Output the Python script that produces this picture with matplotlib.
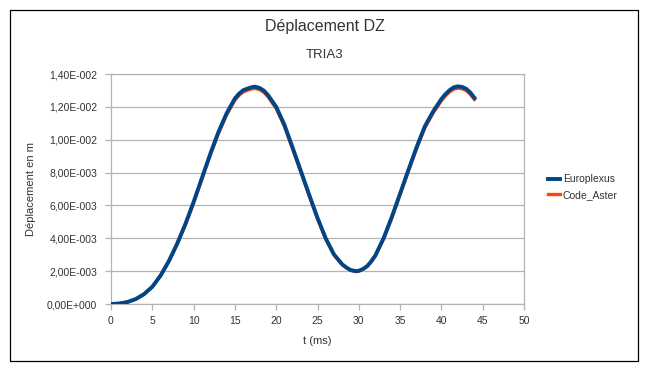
import matplotlib
matplotlib.use("Agg")
import matplotlib.pyplot as plt
from matplotlib.patches import Rectangle
from matplotlib.ticker import FuncFormatter, MultipleLocator

plt.rcParams['font.family'] = ['Liberation Sans', 'DejaVu Sans']

# time (ms)
t = [0, 1, 2, 3, 4, 5, 6, 7, 8, 9, 10, 11, 12, 13, 14, 15, 15.5, 16, 16.5, 17,
     17.4, 18, 18.5, 19, 19.5, 20, 21, 22, 23, 24, 25, 26, 27, 28, 28.5, 29,
     29.65, 30, 30.5, 31, 31.5, 32, 33, 34, 35, 36, 37, 38, 39, 40, 40.5, 41,
     41.5, 42, 42.5, 43, 43.5, 44]

# displacement DZ (m)
europlexus = [0, 0.00003, 0.00012, 0.00030, 0.00060, 0.00105, 0.00173, 0.00261,
              0.00366, 0.00486, 0.00621, 0.00766, 0.00911, 0.01046, 0.01161,
              0.01251, 0.01280, 0.01301, 0.01311, 0.01319, 0.01323, 0.01315,
              0.01299, 0.01272, 0.01236, 0.01200, 0.01090, 0.00950, 0.00807,
              0.00664, 0.00524, 0.00399, 0.00301, 0.00241, 0.00222, 0.00207,
              0.00200, 0.00202, 0.00213, 0.00230, 0.00259, 0.00295, 0.00400,
              0.00530, 0.00672, 0.00815, 0.00955, 0.01082, 0.01172, 0.01248,
              0.01278, 0.01302, 0.01319, 0.01325, 0.01321, 0.01310, 0.01287,
              0.01255]

code_aster = [0, 0.00003, 0.00012, 0.00030, 0.00060, 0.00104, 0.00172, 0.00259,
              0.00363, 0.00482, 0.00616, 0.00760, 0.00904, 0.01038, 0.01152,
              0.01241, 0.01270, 0.01291, 0.01301, 0.01309, 0.01313, 0.01305,
              0.01289, 0.01262, 0.01226, 0.01190, 0.01081, 0.00942, 0.00801,
              0.00659, 0.00520, 0.00396, 0.00299, 0.00239, 0.00220, 0.00205,
              0.00198, 0.00200, 0.00211, 0.00228, 0.00257, 0.00293, 0.00397,
              0.00526, 0.00667, 0.00808, 0.00947, 0.01073, 0.01163, 0.01238,
              0.01268, 0.01292, 0.01308, 0.01314, 0.01310, 0.01300, 0.01276,
              0.01245]

grey = '#b3b3b3'
txt = '#333333'


def sci_fmt(v, pos):
    # LibreOffice style: 1,40E-002
    if abs(v) < 1e-12:
        return '0,00E+000'
    s = '%.2E' % v
    mant, exp = s.split('E')
    e = int(exp)
    sign = '-' if e < 0 else '+'
    return mant.replace('.', ',') + 'E' + sign + '%03d' % abs(e)


fig = plt.figure(figsize=(6.49, 3.72), dpi=100)
fig.patch.set_facecolor('white')

# outer frame
fig.add_artist(Rectangle((10 / 649, 11 / 372), 628 / 649, 351 / 372,
                         transform=fig.transFigure, fill=False,
                         ec='black', lw=0.9))

ax = fig.add_axes([111 / 649, 68 / 372, 413 / 649, 230 / 372])

l2, = ax.plot(t, code_aster, color='#ff420e', lw=2.4, solid_joinstyle='round',
              label='Code_Aster', zorder=3)
l1, = ax.plot(t, europlexus, color='#004586', lw=2.8, solid_joinstyle='round',
              label='Europlexus', zorder=4)

ax.set_xlim(0, 50)
ax.set_ylim(0, 0.014)
ax.xaxis.set_major_locator(MultipleLocator(5))
ax.yaxis.set_major_locator(MultipleLocator(0.002))
ax.yaxis.set_major_formatter(FuncFormatter(sci_fmt))

ax.grid(axis='y', color=grey, lw=0.9)
ax.set_axisbelow(True)
for sp in ax.spines.values():
    sp.set_color(grey)
    sp.set_linewidth(0.9)

ax.tick_params(axis='both', colors=grey, labelcolor=txt, labelsize=7.5,
               length=4, width=0.9)
ax.tick_params(axis='x', pad=5)
ax.tick_params(axis='y', pad=6)

ax.set_xlabel('t (ms)', fontsize=8, color=txt, labelpad=7)
ax.set_ylabel('Déplacement en m', fontsize=8, color=txt, labelpad=8)

fig.text(0.5, 1 - 26 / 372, 'Déplacement DZ', ha='center', va='center',
         fontsize=11.5, color=txt)
fig.text(0.5, 1 - 55 / 372, 'TRIA3', ha='center', va='center',
         fontsize=9.5, color=txt)

ax.legend(handles=[l1, l2], loc='upper left',
          bbox_to_anchor=(543 / 649, 1 - 169 / 372),
          bbox_transform=fig.transFigure, frameon=False, fontsize=7.5,
          handlelength=1.1, handletextpad=0.3, labelspacing=0.55,
          borderpad=0, labelcolor=txt)

fig.savefig('out.png', dpi=100)
